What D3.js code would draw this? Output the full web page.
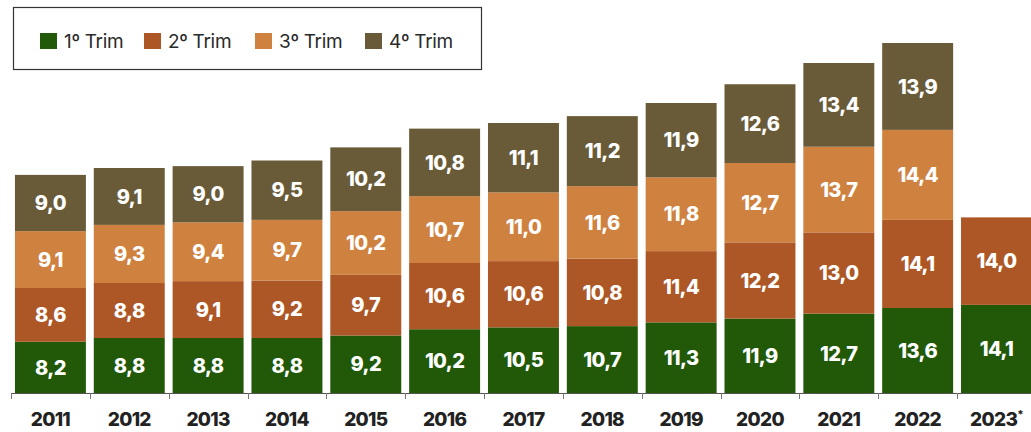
<!DOCTYPE html>
<html>
<head>
<meta charset="utf-8">
<script src="https://cdn.jsdelivr.net/npm/d3@7"></script>
<style>
  body { margin: 0; background: #fff; }
  svg { display: block; font-family: Inter, "Open Sans", sans-serif; }
</style>
</head>
<body>
<svg id="chart" width="1031" height="432"></svg>
<script>
// Years on the x axis
const years = ["2011", "2012", "2013", "2014", "2015", "2016", "2017", "2018", "2019", "2020", "2021", "2022", "2023"];
// Series names
const quarters = ["1º Trim", "2º Trim", "3º Trim", "4º Trim"];
// Values for each quarter (null = no data yet)
const trim1 = [8.2, 8.8, 8.8, 8.8, 9.2, 10.2, 10.5, 10.7, 11.3, 11.9, 12.7, 13.6, 14.1];
const trim2 = [8.6, 8.8, 9.1, 9.2, 9.7, 10.6, 10.6, 10.8, 11.4, 12.2, 13.0, 14.1, 14.0];
const trim3 = [9.1, 9.3, 9.4, 9.7, 10.2, 10.7, 11.0, 11.6, 11.8, 12.7, 13.7, 14.4, null];
const trim4 = [9.0, 9.1, 9.0, 9.5, 10.2, 10.8, 11.1, 11.2, 11.9, 12.6, 13.4, 13.9, null];
//List of colors
const colors = ["#215909", "#ad5726", "#cf8240", "#6a5b38"];

const svg = d3.select("#chart");

// build rows for the stack
const series = [trim1, trim2, trim3, trim4];
const rows = years.map((y, i) => {
    const r = { year: y };
    quarters.forEach((q, k) => r[q] = series[k][i] == null ? 0 : series[k][i]);
    return r;
});
const stacked = d3.stack().keys(quarters)(rows);

// scales
const xScale = d3.scaleBand()
    .domain(years)
    .range([11, 11 + 13 * 78.84])
    .paddingInner(0.1)
    .paddingOuter(0.05);

const yScale = d3.scaleLinear()
    .domain([0, 56])
    .range([393, 43]);

const fmt = v => v.toFixed(1).replace(".", ",");

// bars
const layer = svg.selectAll("g.layer")
    .data(stacked)
    .join("g")
    .attr("class", "layer")
    .attr("fill", (d, i) => colors[i]);

layer.selectAll("rect")
    .data(d => d.filter(s => s[1] > s[0]))
    .join("rect")
    .attr("x", d => xScale(d.data.year))
    .attr("y", d => yScale(d[1]))
    .attr("width", xScale.bandwidth())
    .attr("height", d => yScale(d[0]) - yScale(d[1]));

// labels inside the segments
layer.selectAll("text")
    .data(d => d.filter(s => s[1] > s[0]))
    .join("text")
    .attr("x", d => xScale(d.data.year) + xScale.bandwidth() / 2)
    .attr("y", d => (yScale(d[0]) + yScale(d[1])) / 2)
    .attr("dy", "0.36em")
    .attr("text-anchor", "middle")
    .attr("fill", "#fff")
    .attr("font-size", 20)
    .attr("font-weight", 800)
    .attr("letter-spacing", "-0.6")
    .text(d => fmt(d[1] - d[0]));

// x axis line + ticks at band edges
const step = xScale.step();
const axis = svg.append("g");
axis.append("line")
    .attr("x1", 11).attr("x2", 1031)
    .attr("y1", 393.5).attr("y2", 393.5)
    .attr("stroke", "#555").attr("stroke-width", 1.2);
axis.selectAll("line.tick")
    .data(years)
    .join("line")
    .attr("class", "tick")
    .attr("x1", d => Math.round(xScale(d) - step * 0.05) + 0.5)
    .attr("x2", d => Math.round(xScale(d) - step * 0.05) + 0.5)
    .attr("y1", 393).attr("y2", 399)
    .attr("stroke", "#777").attr("stroke-width", 1);

const yearLbl = axis.selectAll("text")
    .data(years)
    .join("text")
    .attr("x", d => xScale(d) + xScale.bandwidth() / 2)
    .attr("y", 426)
    .attr("text-anchor", "middle")
    .attr("fill", "#222")
    .attr("font-size", 19)
    .attr("font-weight", 800)
    .attr("letter-spacing", "-0.7")
    .text(d => d);
// asterisk on the last year
yearLbl.filter(d => d == "2023")
    .append("tspan")
    .attr("font-size", 11)
    .attr("dy", -8)
    .text("*");

// legend
const legend = svg.append("g");
legend.append("rect")
    .attr("x", 13.5).attr("y", 7.5)
    .attr("width", 468).attr("height", 62)
    .attr("fill", "#fff")
    .attr("stroke", "#333").attr("stroke-width", 1.2);

const legX = [40, 144, 255, 365];
const item = legend.selectAll("g.item")
    .data(quarters)
    .join("g")
    .attr("class", "item")
    .attr("transform", (d, i) => "translate(" + legX[i] + ",33)");
item.append("rect")
    .attr("width", 17).attr("height", 16)
    .attr("fill", (d, i) => colors[i]);
item.append("text")
    .attr("x", 24).attr("y", 15)
    .attr("fill", "#2a2a2a")
    .attr("font-size", 19)
    .attr("letter-spacing", "-0.3")
    .text(d => d);
</script>
</body>
</html>
